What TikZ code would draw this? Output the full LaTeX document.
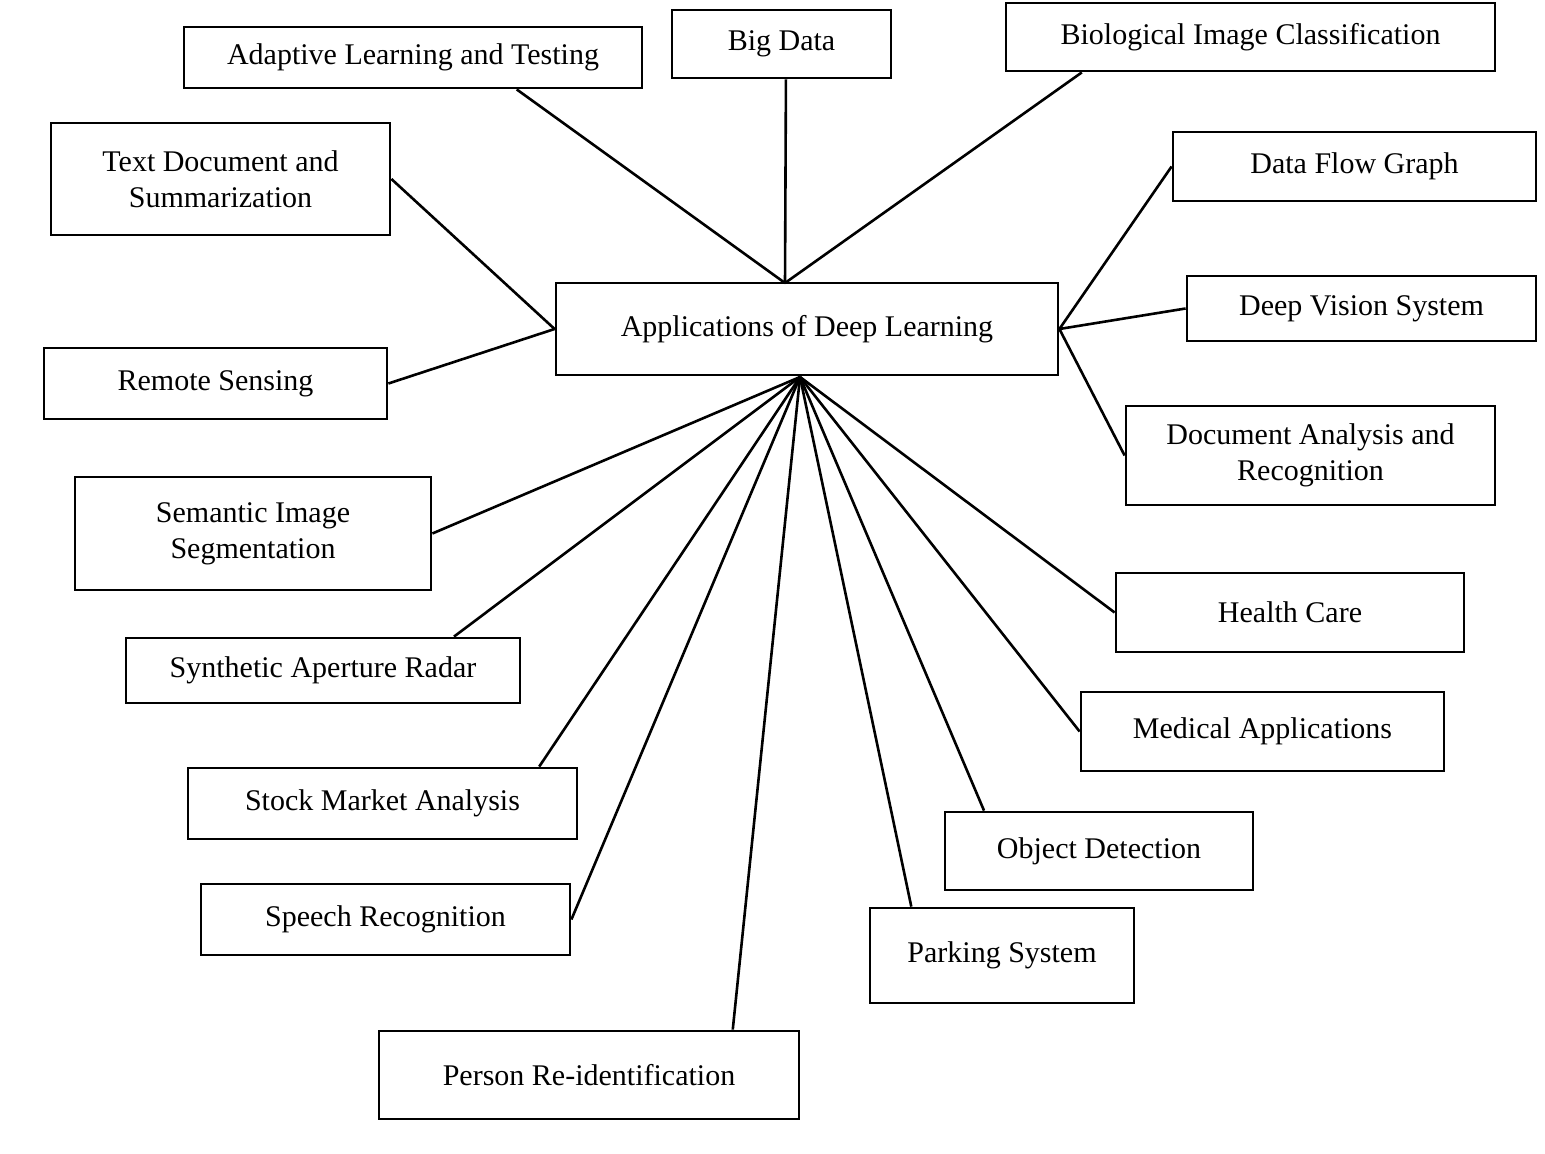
\documentclass[tikz,border=0pt]{standalone}
\usepackage{fontspec}
\setmainfont{Liberation Serif}
\usetikzlibrary{calc}
\begin{document}
\begin{tikzpicture}[x=0.5pt,y=-0.5pt,
 box/.style={draw,line width=1.4pt,inner sep=0pt,align=center,font=\fontsize{15}{18}\selectfont},
 ln/.style={line width=1.3pt}]
\useasboundingbox (0,0) rectangle (1545,1154);
\node[box,minimum width=229pt,minimum height=30.5pt] (adapt) at (413,57.5) {Adaptive Learning and Testing};
\node[box,minimum width=109.5pt,minimum height=34pt] (big) at (781.5,44) {Big Data};
\node[box,minimum width=244.5pt,minimum height=34pt] (bio) at (1250.5,37) {Biological Image Classification};
\node[box,minimum width=169.5pt,minimum height=56pt] (text) at (220.5,179) {Text Document and\\Summarization};
\node[box,minimum width=181.5pt,minimum height=34.5pt] (flow) at (1354.5,166.5) {Data Flow Graph};
\node[box,minimum width=251pt,minimum height=46pt] (c) at (807,329) {Applications of Deep Learning};
\node[box,minimum width=174.5pt,minimum height=32.5pt] (vision) at (1361.5,308.5) {Deep Vision System};
\node[box,minimum width=171.5pt,minimum height=35.5pt] (remote) at (215.5,383.5) {Remote Sensing};
\node[box,minimum width=184.5pt,minimum height=49.5pt] (doc) at (1310.5,455.5) {Document Analysis and\\Recognition};
\node[box,minimum width=178pt,minimum height=56.5pt] (sem) at (253,533.5) {Semantic Image\\Segmentation};
\node[box,minimum width=174pt,minimum height=39.5pt] (health) at (1290,612.5) {Health Care};
\node[box,minimum width=197pt,minimum height=32.5pt] (syn) at (323,670.5) {Synthetic Aperture Radar};
\node[box,minimum width=181.5pt,minimum height=39.5pt] (med) at (1262.5,731.5) {Medical Applications};
\node[box,minimum width=194.5pt,minimum height=35.5pt] (stock) at (382.5,803.5) {Stock Market Analysis};
\node[box,minimum width=154pt,minimum height=39pt] (obj) at (1099,851) {Object Detection};
\node[box,minimum width=184.5pt,minimum height=35.5pt] (speech) at (385.5,919.5) {Speech Recognition};
\node[box,minimum width=132pt,minimum height=47.5pt] (park) at (1002,955.5) {Parking System};
\node[box,minimum width=210pt,minimum height=44pt] (person) at (589,1075) {Person Re-identification};
\coordinate (top) at (785,283);
\coordinate (hub) at (800,377);
\draw[ln] ($(adapt.south west)!0.725!(adapt.south east)$) -- (top);
\draw[ln] ($(big.south west)!0.52!(big.south east)$) -- (top);
\draw[ln] ($(bio.south west)!0.157!(bio.south east)$) -- (top);
\draw[ln] (text.east) -- (c.west);
\draw[ln] (remote.east) -- (c.west);
\draw[ln] (flow.west) -- (c.east);
\draw[ln] (vision.west) -- (c.east);
\draw[ln] (doc.west) -- (c.east);
\draw[ln] (sem.east) -- (hub);
\draw[ln] ($(syn.north west)!0.83!(syn.north east)$) -- (hub);
\draw[ln] ($(stock.north west)!0.9!(stock.north east)$) -- (hub);
\draw[ln] (speech.east) -- (hub);
\draw[ln] ($(person.north west)!0.84!(person.north east)$) -- (hub);
\draw[ln] ($(park.north west)!0.16!(park.north east)$) -- (hub);
\draw[ln] ($(obj.north west)!0.13!(obj.north east)$) -- (hub);
\draw[ln] (med.west) -- (hub);
\draw[ln] (health.west) -- (hub);
\end{tikzpicture}
\end{document}
